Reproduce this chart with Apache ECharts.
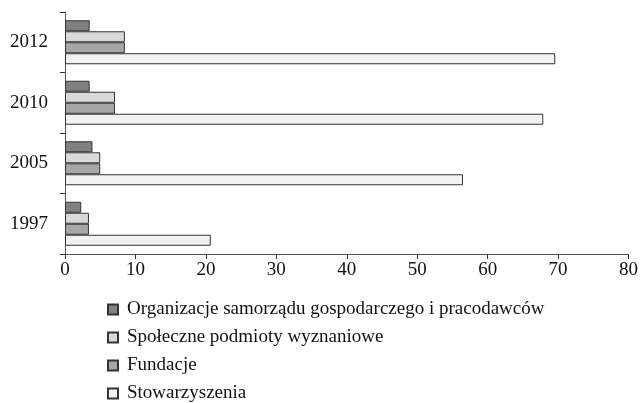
<!DOCTYPE html>
<html>
<head>
<meta charset="utf-8">
<script src="https://cdn.jsdelivr.net/npm/echarts@6/dist/echarts.min.js"></script>
<style>
    html, body { margin: 0; padding: 0; background: #fff; }
    #chart { width: 641px; height: 403px; }
</style>
</head>
<body>
<div id="chart"></div>
<script>
// categories, bottom to top
const years = ['1997', '2005', '2010', '2012']
const xTicks = [0, 10, 20, 30, 40, 50, 60, 70, 80]

const organizacje = [2.3, 3.9, 3.5, 3.5]
const spoleczne = [3.4, 5.0, 7.1, 8.5]
const fundacje = [3.4, 5.0, 7.1, 8.5]
const stowarzyszenia = [20.7, 56.5, 67.9, 69.6]

const names = [
    'Organizacje samorządu gospodarczego i pracodawców',
    'Społeczne podmioty wyznaniowe',
    'Fundacje',
    'Stowarzyszenia'
]

const font = '"Liberation Serif", "Times New Roman", serif'

function bar(name, data, color) {
    return {
        name: name,
        type: 'bar',
        data: data,
        barWidth: 11,
        barGap: '0%',
        itemStyle: {
            color: color,
            borderColor: '#333',
            borderWidth: 1
        },
        emphasis: { disabled: true }
    }
}

let chart = echarts.init(document.getElementById('chart'))
chart.setOption({
    animation: false,
    textStyle: { fontFamily: font },
    grid: { left: 65, right: 11, top: 12, bottom: 149, containLabel: false },
    legend: {
        orient: 'vertical',
        left: 107,
        top: 300,
        height: 110,
        padding: 0,
        icon: 'rect',
        itemWidth: 10,
        itemHeight: 10,
        itemGap: 9,
        data: names,
        textStyle: { fontFamily: font, fontSize: 19, color: '#111', padding: [0, 0, 0, 4] }
    },
    xAxis: {
        type: 'value',
        min: xTicks[0],
        max: xTicks[xTicks.length - 1],
        interval: 10,
        splitLine: { show: false },
        axisLine: { show: true, lineStyle: { color: '#555', width: 1 } },
        axisTick: { show: true, length: 5, lineStyle: { color: '#333' } },
        axisLabel: { fontFamily: font, fontSize: 19, color: '#111', margin: 7 }
    },
    yAxis: {
        type: 'category',
        data: years,
        axisLine: { show: true, lineStyle: { color: '#555', width: 1 } },
        axisTick: { show: true, length: 5, lineStyle: { color: '#333' } },
        axisLabel: { fontFamily: font, fontSize: 19, color: '#111', margin: 17 }
    },
    series: [
        bar(names[0], organizacje, '#808080'),
        bar(names[1], spoleczne, '#d9d9d9'),
        bar(names[2], fundacje, '#a6a6a6'),
        bar(names[3], stowarzyszenia, '#f2f2f2')
    ]
})
</script>
</body>
</html>
